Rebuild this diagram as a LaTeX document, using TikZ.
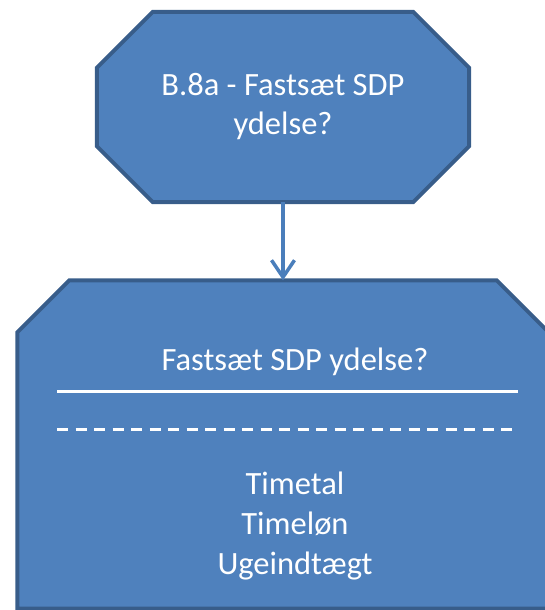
\documentclass[tikz,border=0pt]{standalone}
\usepackage{fontspec}
\setmainfont{Carlito}
\usetikzlibrary{arrows.meta,backgrounds}
\definecolor{officeblue}{HTML}{4F81BD}
\definecolor{officeedge}{HTML}{385D8A}
\definecolor{linkblue}{HTML}{4A7EBB}
\tikzstyle{decision} = [rectangle, minimum width=372pt, minimum height=190pt, inner sep=0pt, align=center, text=white, font=\fontsize{32.5}{39}\selectfont]
\tikzstyle{formbox} = [rectangle, minimum width=531pt, minimum height=328pt, inner sep=0pt]
\tikzstyle{outline} = [draw=officeedge, fill=officeblue, line width=4pt]
\tikzstyle{formtext} = [text=white, align=center, font=\fontsize{32.5}{40}\selectfont]
\tikzstyle{rule} = [draw=white, line width=3pt]
\tikzstyle{arrow} = [line width=3.5pt, draw=linkblue, -{Straight Barb[length=17pt,width=23pt]}]

\begin{document}
\begin{tikzpicture}[x=1pt,y=1pt]

        \path [use as bounding box, clip] (0,0) rectangle (544,-610);

        \node (ask) [decision] at (283,-107) {B.8a - Fastsæt SDP\\ydelse?};
        \node (form) [formbox] at (283,-444.5) {};

        % cut corners behind the texts
        \begin{scope}[on background layer]
        \draw [outline] ([xshift=56pt]ask.north west) -- ([xshift=-56pt]ask.north east)
                -- ([yshift=-56pt]ask.north east) -- ([yshift=56pt]ask.south east)
                -- ([xshift=-56pt]ask.south east) -- ([xshift=56pt]ask.south west)
                -- ([yshift=56pt]ask.south west) -- ([yshift=-56pt]ask.north west) -- cycle;
        \draw [outline] ([xshift=52pt]form.north west) -- ([xshift=-52pt]form.north east)
                -- ([yshift=-52pt]form.north east) -- (form.south east)
                -- (form.south west) -- ([yshift=-52pt]form.north west) -- cycle;
        \end{scope}

        \draw [arrow] (ask) -- (form);

        \node (title) [formtext] at (295,-362) {Fastsæt SDP ydelse?};
        \draw [rule] (57,-391) -- (518,-391);
        \draw [rule, dash pattern=on 11pt off 7.5pt] (57,-429) -- (516,-429);
        \node (items) [formtext] at (295,-526) {Timetal\\Timeløn\\Ugeindtægt};

\end{tikzpicture}
\end{document}
